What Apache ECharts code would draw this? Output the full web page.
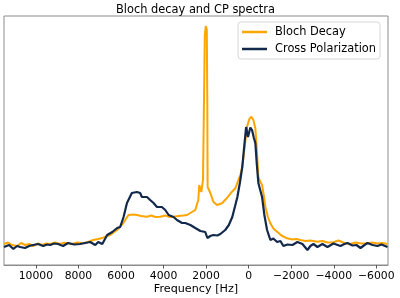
<!DOCTYPE html>
<html>
<head>
<meta charset="utf-8">
<script src="https://cdn.jsdelivr.net/npm/echarts@6/dist/echarts.min.js"></script>
<style>
  html, body { margin: 0; padding: 0; background: #fff; }
  #spectra { width: 400px; height: 298px; }
</style>
</head>
<body>
<div id="spectra"></div>
<script>
// frequency axis (Hz) and intensities (arbitrary units)
var tickValues = [10000, 8000, 6000, 4000, 2000, 0, -2000, -4000, -6000];

var blochFreq = [11500, 11310, 11120, 10885, 10697, 10509, 10320, 10132, 9897, 9708, 9520, 9332, 9097, 8862, 8674, 8533, 8297, 8062, 7779, 7544, 7309, 7073, 6838, 6650, 6509, 6320, 6179, 6038, 5897, 5803, 5647, 5426, 5252, 5049, 4781, 4579, 4391, 4155, 3920, 3685, 3530, 3308, 3073, 2899, 2744, 2508, 2367, 2320, 2226, 2146, 2099, 2061, 2014, 1967, 1944, 1929, 1802, 1661, 1487, 1252, 1017, 781, 626, 485, 391, 296, 179, 75, -33, -127, -221, -315, -386, -456, -551, -631, -715, -786, -904, -1021, -1162, -1337, -1539, -1807, -2056, -2245, -2433, -2668, -2903, -3219, -3468, -3704, -3986, -4221, -4504, -4786, -5021, -5304, -5572, -5821, -6056, -6292, -6513];
var blochInt = [0, 1.5, -1, -2, 1, -1, 0, -2, 0.5, -1, 0.5, 0, 1.5, 0, 1.3, 0.7, 0, 1.5, 0.7, 2, 4, 5, 6.3, 8, 9, 12, 14, 17.3, 20.7, 24, 29, 29.5, 29, 28, 27.3, 28.5, 27, 27.3, 28.5, 27, 27.3, 28, 28.5, 29, 31, 34, 44, 59, 52, 64, 144, 209, 218, 214, 144, 57, 51, 42.3, 39, 40.7, 46, 52.3, 55.7, 64, 69, 77.3, 99, 117.3, 125, 127.3, 124, 115.7, 94, 67.3, 62, 59, 48, 37.3, 27, 20.7, 15.5, 12.3, 8.5, 5.7, 4.5, 5, 4, 3, 3.5, 2.3, 3, 1.5, 1.7, 3.5, 1, 0, 1.5, 0.5, 0.7, 1.5, 0.5, 1, 0];

var cpFreq = [11500, 11260, 11060, 10885, 10740, 10510, 10320, 10130, 9900, 9660, 9470, 9330, 9140, 8960, 8720, 8490, 8200, 7920, 7690, 7450, 7210, 7070, 6880, 6650, 6410, 6180, 6040, 5880, 5720, 5490, 5250, 5100, 5020, 4780, 4630, 4470, 4310, 4080, 3920, 3760, 3530, 3370, 3130, 2980, 2740, 2510, 2270, 2040, 1940, 1803, 1660, 1473, 1330, 1100, 932, 770, 649, 530, 414, 300, 202, 120, 30, -80, -160, -245, -315, -386, -456, -631, -739, -866, -1021, -1162, -1337, -1492, -1633, -1821, -2056, -2292, -2527, -2762, -2903, -3045, -3233, -3469, -3704, -3986, -4316, -4504, -4645, -4880, -5068, -5257, -5445, -5586, -5821, -6056, -6245, -6527];
var cpInt = [-3, -1, -5, -2, -3, -4, -2, -1, 0, -2, -0.5, -1, 0.5, 0, -2, 1, -0.5, 0, 1, 2, -1, 2, 0, 9, 12, 16, 17, 27, 41, 51, 52, 51, 47, 47, 44, 41, 37, 37, 34, 29, 27, 24, 21, 21, 19, 16, 13, 12, 6, 8, 9, 8.5, 10, 14, 19, 27, 37, 47, 61, 77, 99, 117, 107, 116.5, 114, 106, 101, 79, 61, 47, 29, 14, 4, 5.5, 2, 3, -2, -0.5, -1, 2, 0, -6, -2, 0, -3, 0, -3, 0.5, -2, 0, 1, -1.5, -1, -4, -1, 1, -1, -2, -0.5, -3];

function pairs(xs, ys) {
    return xs.map(function (x, i) { return [x, ys[i]]; });
}

var chart = echarts.init(document.getElementById('spectra'));
var font = 'DejaVu Sans';

var option = {
    animation: false,
    title: {
        text: 'Bloch decay and CP spectra',
        left: 111,
        top: 0,
        textStyle: { fontFamily: font, fontSize: 11.4, fontWeight: 'normal', color: '#000' }
    },
    legend: {
        orient: 'vertical',
        left: 238,
        top: 22,
        padding: [3, 4, 3, 4],
        itemGap: 3,
        itemWidth: 25,
        itemHeight: 2.5,
        icon: 'rect',
        backgroundColor: 'rgba(255,255,255,0.8)',
        borderColor: '#d6d6d6',
        borderWidth: 1,
        borderRadius: 3,
        textStyle: { fontFamily: font, fontSize: 11.4, color: '#000', lineHeight: 14, padding: [0, 0, 0, 3] },
        data: ['Bloch Decay', 'Cross Polarization']
    },
    grid: {
        left: 4,
        right: 12,
        top: 16,
        bottom: 33,
        show: true,
        borderColor: '#8c8c8c',
        borderWidth: 1,
        outerBoundsMode: 'none'
    },
    xAxis: {
        type: 'value',
        inverse: true,
        min: -6550,
        max: 11500,
        name: 'Frequency [Hz]',
        nameLocation: 'middle',
        nameGap: 19,
        nameMoveOverlap: false,
        nameTextStyle: { fontFamily: font, fontSize: 11.2, color: '#000' },
        axisLine: { show: true, onZero: false, lineStyle: { color: '#8c8c8c' } },
        axisTick: { show: true, length: 3.5, lineStyle: { color: '#555' }, customValues: tickValues },
        axisLabel: {
            fontFamily: font,
            fontSize: 10.8,
            color: '#000',
            margin: 6,
            customValues: tickValues,
            formatter: function (v) { return String(v).replace('-', '\u2212'); }
        },
        splitLine: { show: false }
    },
    yAxis: {
        type: 'value',
        min: -21,
        max: 228,
        show: false
    },
    series: [
        {
            name: 'Bloch Decay',
            type: 'line',
            showSymbol: false,
            color: '#ffa500',
            lineStyle: { width: 2, color: '#ffa500' },
            data: pairs(blochFreq, blochInt)
        },
        {
            name: 'Cross Polarization',
            type: 'line',
            showSymbol: false,
            color: '#13294b',
            lineStyle: { width: 2.2, color: '#13294b' },
            data: pairs(cpFreq, cpInt)
        }
    ]
};

chart.setOption(option);
</script>
</body>
</html>
